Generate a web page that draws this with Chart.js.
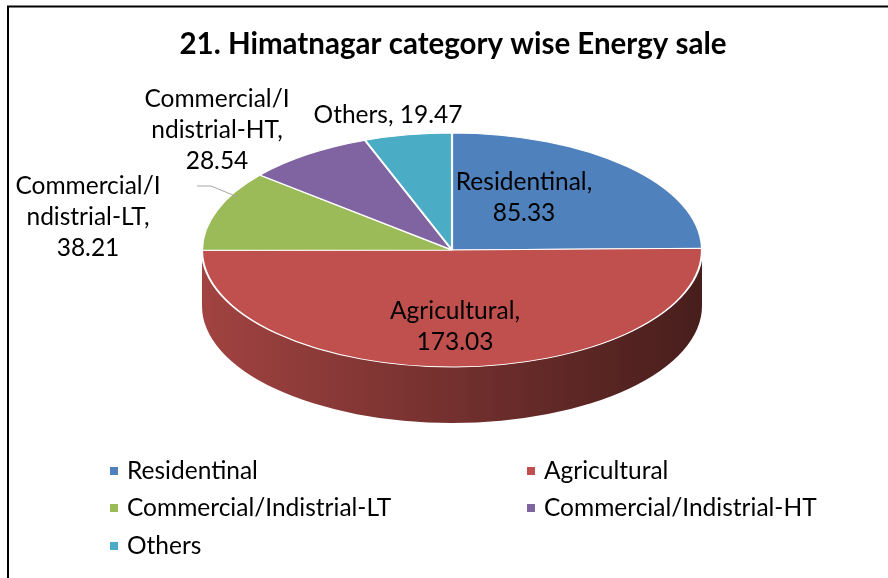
<!DOCTYPE html>
<html lang="en">
<head>
<meta charset="UTF-8">
<title>Himatnagar category wise Energy sale</title>
<style>
  html, body { margin: 0; padding: 0; background: #fff; }
  canvas { display: block; }
</style>
<script src="https://cdn.jsdelivr.net/npm/chart.js"></script>
</head>
<body>
<canvas id="pieChart" width="888" height="578"></canvas>
<script>
const categories = ['Residentinal', 'Agricultural', 'Commercial/Indistrial-LT', 'Commercial/Indistrial-HT', 'Others'];
const energySale = [85.33, 173.03, 38.21, 28.54, 19.47];
const sliceColors = ['#4f81bd', '#c0504d', '#9bbb59', '#8064a2', '#4bacc6'];

// where the tilted pie sits on the page
const pieCenter = { x: 452, y: 250 };
const pieRadiusX = 250, pieRadiusY = 117, pieDepth = 56;

// data label centres, offset from the pie centre
const labelOffsets = [[72, -52], [3, 77], [-364, -33], [-235, -120], [-64, -135]];
const labelFont = '24.5px Lato';
const labelLineHeight = 31;

function shade(hex, k) {
    const n = parseInt(hex.slice(1), 16);
    const r = Math.round(((n >> 16) & 255) * k);
    const g = Math.round(((n >> 8) & 255) * k);
    const b = Math.round((n & 255) * k);
    return 'rgb(' + r + ',' + g + ',' + b + ')';
}

// break a label the way Excel wrapped it
function labelText(i) {
    const name = categories[i];
    const val = energySale[i].toFixed(2);
    if (name === 'Others') return [name + ', ' + val];
    if (name.length > 14) return [name.slice(0, 12), name.slice(12) + ',', val];
    return [name + ',', val];
}

const pie3d = {
    id: 'pie3d',
    beforeDatasetsDraw(chart) {
        const ctx = chart.ctx;
        const arcs = chart.getDatasetMeta(0).data;
        if (!arcs.length) return;
        const cx = pieCenter.x, cy = pieCenter.y;

        // side wall, only the front half is visible
        arcs.forEach((arc, i) => {
            const s = Math.max(arc.startAngle, 0);
            const e = Math.min(arc.endAngle, Math.PI);
            if (e <= s) return;
            const grad = ctx.createLinearGradient(cx - pieRadiusX, 0, cx + pieRadiusX, 0);
            grad.addColorStop(0, shade(sliceColors[i], 0.84));
            grad.addColorStop(0.5, shade(sliceColors[i], 0.6));
            grad.addColorStop(1, shade(sliceColors[i], 0.37));
            ctx.save();
            ctx.fillStyle = grad;
            ctx.beginPath();
            ctx.ellipse(cx, cy, pieRadiusX, pieRadiusY, 0, s, e);
            ctx.ellipse(cx, cy + pieDepth, pieRadiusX, pieRadiusY, 0, e, s, true);
            ctx.closePath();
            ctx.fill();
            ctx.restore();
        });

        // squash the top face into an ellipse
        const a0 = arcs[0];
        const r = a0.outerRadius;
        ctx.save();
        ctx.translate(cx, cy);
        ctx.scale(pieRadiusX / r, pieRadiusY / r);
        ctx.translate(-a0.x, -a0.y);
    },
    afterDatasetsDraw(chart) {
        const ctx = chart.ctx;
        ctx.restore();
        const arcs = chart.getDatasetMeta(0).data;
        const cx = pieCenter.x, cy = pieCenter.y;

        ctx.save();
        ctx.font = labelFont;
        ctx.fillStyle = '#000';
        ctx.textAlign = 'center';
        ctx.textBaseline = 'middle';
        arcs.forEach((arc, i) => {
            const lines = labelText(i);
            const lx = cx + labelOffsets[i][0];
            const ly = cy + labelOffsets[i][1];
            const top = ly - (lines.length - 1) * labelLineHeight / 2;
            lines.forEach((t, k) => ctx.fillText(t, lx, top + k * labelLineHeight));

            // leader line for the label that sits away from its slice
            if (i === 2) {
                const a = arc.startAngle + 0.7 * (arc.endAngle - arc.startAngle);
                const ex = cx + Math.cos(a) * pieRadiusX * 0.97;
                const ey = cy + Math.sin(a) * pieRadiusY * 0.97;
                const sx = lx + 109, sy = top;
                ctx.save();
                ctx.strokeStyle = '#a6a6a6';
                ctx.lineWidth = 1;
                ctx.beginPath();
                ctx.moveTo(sx, sy);
                ctx.lineTo(sx + 14, sy);
                ctx.lineTo(ex, ey);
                ctx.stroke();
                ctx.restore();
            }
        });
        ctx.restore();
    },
    afterDraw(chart) {
        const ctx = chart.ctx;
        // legend, two columns
        const colX = [110, 527];
        const rowY = [471, 508, 546];
        ctx.save();
        ctx.font = labelFont;
        ctx.textBaseline = 'middle';
        ctx.textAlign = 'left';
        categories.forEach((name, i) => {
            const x = colX[i % 2];
            const y = rowY[Math.floor(i / 2)];
            ctx.fillStyle = sliceColors[i];
            ctx.fillRect(x, y - 4, 8, 8);
            ctx.fillStyle = '#000';
            ctx.fillText(name, x + 17, y);
        });

        // chart frame
        ctx.strokeStyle = '#000';
        ctx.lineWidth = 2;
        ctx.beginPath();
        ctx.moveTo(8, 578);
        ctx.lineTo(8, 6.5);
        ctx.lineTo(888, 6.5);
        ctx.stroke();
        ctx.restore();
    }
};

const ctx = document.getElementById('pieChart').getContext('2d');
new Chart(ctx, {
    type: 'pie',
    data: {
        labels: categories,
        datasets: [{
            data: energySale,
            backgroundColor: sliceColors,
            borderColor: '#ffffff',
            borderWidth: 1.5,
            clip: false
        }]
    },
    options: {
        responsive: false,
        animation: false,
        devicePixelRatio: 1,
        events: [],
        layout: { padding: { left: 18, bottom: 150 } },
        plugins: {
            legend: { display: false },
            tooltip: { enabled: false },
            title: {
                display: true,
                text: '21. Himatnagar category wise Energy sale',
                color: '#000',
                font: { family: 'Lato', size: 29.5, weight: 'bold' },
                padding: { top: 27, bottom: 10 }
            }
        }
    },
    plugins: [pie3d]
});
</script>
</body>
</html>
